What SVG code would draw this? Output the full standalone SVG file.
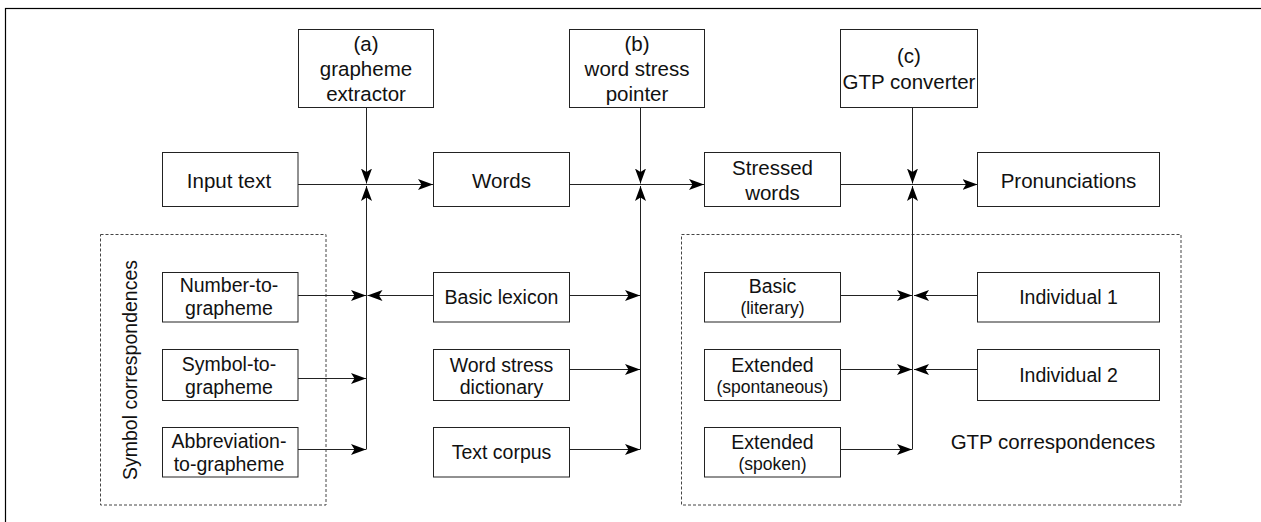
<svg xmlns="http://www.w3.org/2000/svg" width="1261" height="522" viewBox="0 0 1261 522">
<style>
  .box { fill: #fff; stroke: #222; stroke-width: 1; }
  .grp { fill: none; stroke: #444; stroke-width: 1; stroke-dasharray: 3 2; }
  .t { font-family: "Liberation Sans", Arial, sans-serif; font-size: 20.5px; fill: #111; text-anchor: middle; }
  .s { font-size: 19.5px; }
  .sm { font-size: 17.5px; }
  .ln { fill: none; stroke: #222; stroke-width: 1; }
</style>
<defs>
  <marker id="ah" markerUnits="userSpaceOnUse" markerWidth="16" markerHeight="12" viewBox="0 0 16 12" refX="15" refY="6" orient="auto">
    <path d="M0,0.5 L15,6 L0,11.5 L3.5,6 z" fill="#000"/>
  </marker>
</defs>
<rect x="5.5" y="8.5" width="1300" height="600" fill="none" stroke="#000" stroke-width="1.2"/>

<g id="group-symbol">
  <rect class="grp" x="100.5" y="234.5" width="225.5" height="270.5"/>
  <text class="t s" transform="translate(137,370) rotate(-90)">Symbol correspondences</text>
</g>
<g id="group-gtp">
  <rect class="grp" x="681.5" y="234.5" width="499.5" height="270.5"/>
  <text class="t" x="1053" y="449">GTP correspondences</text>
</g>

<g id="connectors">
  <line class="ln" x1="298" y1="184.5" x2="433" y2="184.5" marker-end="url(#ah)"/>
  <line class="ln" x1="569" y1="184.5" x2="704" y2="184.5" marker-end="url(#ah)"/>
  <line class="ln" x1="840" y1="184.5" x2="977.5" y2="184.5" marker-end="url(#ah)"/>

  <line class="ln" x1="366.5" y1="107" x2="366.5" y2="183.5" marker-end="url(#ah)"/>
  <line class="ln" x1="366.5" y1="449.5" x2="366.5" y2="186" marker-end="url(#ah)"/>
  <line class="ln" x1="640.5" y1="107" x2="640.5" y2="183.5" marker-end="url(#ah)"/>
  <line class="ln" x1="640.5" y1="449.5" x2="640.5" y2="186" marker-end="url(#ah)"/>
  <line class="ln" x1="912.5" y1="107" x2="912.5" y2="183.5" marker-end="url(#ah)"/>
  <line class="ln" x1="912.5" y1="449.5" x2="912.5" y2="186" marker-end="url(#ah)"/>

  <line class="ln" x1="298" y1="295.5" x2="366" y2="295.5" marker-end="url(#ah)"/>
  <line class="ln" x1="298" y1="378.5" x2="366" y2="378.5" marker-end="url(#ah)"/>
  <line class="ln" x1="298" y1="449.5" x2="366" y2="449.5" marker-end="url(#ah)"/>

  <line class="ln" x1="433" y1="295.5" x2="367.5" y2="295.5" marker-end="url(#ah)"/>
  <line class="ln" x1="569" y1="295.5" x2="640" y2="295.5" marker-end="url(#ah)"/>
  <line class="ln" x1="569" y1="369.5" x2="640" y2="369.5" marker-end="url(#ah)"/>
  <line class="ln" x1="569" y1="449.5" x2="640" y2="449.5" marker-end="url(#ah)"/>

  <line class="ln" x1="840" y1="295.5" x2="912" y2="295.5" marker-end="url(#ah)"/>
  <line class="ln" x1="840" y1="369.5" x2="912" y2="369.5" marker-end="url(#ah)"/>
  <line class="ln" x1="840" y1="449.5" x2="912" y2="449.5" marker-end="url(#ah)"/>
  <line class="ln" x1="977.5" y1="295.5" x2="914" y2="295.5" marker-end="url(#ah)"/>
  <line class="ln" x1="977.5" y1="369.5" x2="914" y2="369.5" marker-end="url(#ah)"/>
</g>

<g id="grapheme-extractor">
  <rect class="box" x="298.5" y="29.5" width="135" height="78"/>
  <text class="t" x="366" y="51">(a)</text>
  <text class="t" x="366" y="76">grapheme</text>
  <text class="t" x="366" y="101">extractor</text>
</g>
<g id="word-stress-pointer">
  <rect class="box" x="569.5" y="29.5" width="135" height="78"/>
  <text class="t" x="637" y="51">(b)</text>
  <text class="t" x="637" y="76">word stress</text>
  <text class="t" x="637" y="101">pointer</text>
</g>
<g id="gtp-converter">
  <rect class="box" x="840.5" y="29.5" width="137" height="78"/>
  <text class="t" x="909" y="63">(c)</text>
  <text class="t" x="909" y="88.5">GTP converter</text>
</g>

<g id="input-text">
  <rect class="box" x="162.5" y="152.5" width="135.5" height="54"/>
  <text class="t" x="229" y="188">Input text</text>
</g>
<g id="words">
  <rect class="box" x="433.5" y="152.5" width="136" height="54"/>
  <text class="t" x="501.5" y="188">Words</text>
</g>
<g id="stressed-words">
  <rect class="box" x="704.5" y="152.5" width="136" height="54"/>
  <text class="t" x="772.5" y="175">Stressed</text>
  <text class="t" x="772.5" y="200">words</text>
</g>
<g id="pronunciations">
  <rect class="box" x="977.5" y="152.5" width="182" height="54"/>
  <text class="t" x="1068.5" y="188">Pronunciations</text>
</g>

<g id="number-to-grapheme">
  <rect class="box" x="162.5" y="272.5" width="135.5" height="49.5"/>
  <text class="t s" x="229" y="291.5">Number-to-</text>
  <text class="t s" x="229" y="315">grapheme</text>
</g>
<g id="symbol-to-grapheme">
  <rect class="box" x="162.5" y="349.5" width="135.5" height="51"/>
  <text class="t s" x="229" y="371">Symbol-to-</text>
  <text class="t s" x="229" y="394">grapheme</text>
</g>
<g id="abbreviation-to-grapheme">
  <rect class="box" x="162.5" y="427.5" width="135.5" height="49.5"/>
  <text class="t s" x="229" y="447.5">Abbreviation-</text>
  <text class="t s" x="229" y="470.5">to-grapheme</text>
</g>

<g id="basic-lexicon">
  <rect class="box" x="433.5" y="272.5" width="136" height="49.5"/>
  <text class="t s" x="501.5" y="303.5">Basic lexicon</text>
</g>
<g id="word-stress-dictionary">
  <rect class="box" x="433.5" y="349.5" width="136" height="51"/>
  <text class="t s" x="501.5" y="371.5">Word stress</text>
  <text class="t s" x="501.5" y="394">dictionary</text>
</g>
<g id="text-corpus">
  <rect class="box" x="433.5" y="427.5" width="136" height="49.5"/>
  <text class="t s" x="501.5" y="459">Text corpus</text>
</g>

<g id="basic-literary">
  <rect class="box" x="704.5" y="272.5" width="136" height="49.5"/>
  <text class="t s" x="772.5" y="292.5">Basic</text>
  <text class="t sm" x="772.5" y="314">(literary)</text>
</g>
<g id="extended-spontaneous">
  <rect class="box" x="704.5" y="349.5" width="136" height="51"/>
  <text class="t s" x="772.5" y="371.5">Extended</text>
  <text class="t sm" x="772.5" y="392.5">(spontaneous)</text>
</g>
<g id="extended-spoken">
  <rect class="box" x="704.5" y="427.5" width="136" height="49.5"/>
  <text class="t s" x="772.5" y="449">Extended</text>
  <text class="t sm" x="772.5" y="470">(spoken)</text>
</g>

<g id="individual-1">
  <rect class="box" x="977.5" y="272.5" width="182" height="49.5"/>
  <text class="t s" x="1068.5" y="304">Individual 1</text>
</g>
<g id="individual-2">
  <rect class="box" x="977.5" y="349.5" width="182" height="51"/>
  <text class="t s" x="1068.5" y="381.5">Individual 2</text>
</g>
</svg>
